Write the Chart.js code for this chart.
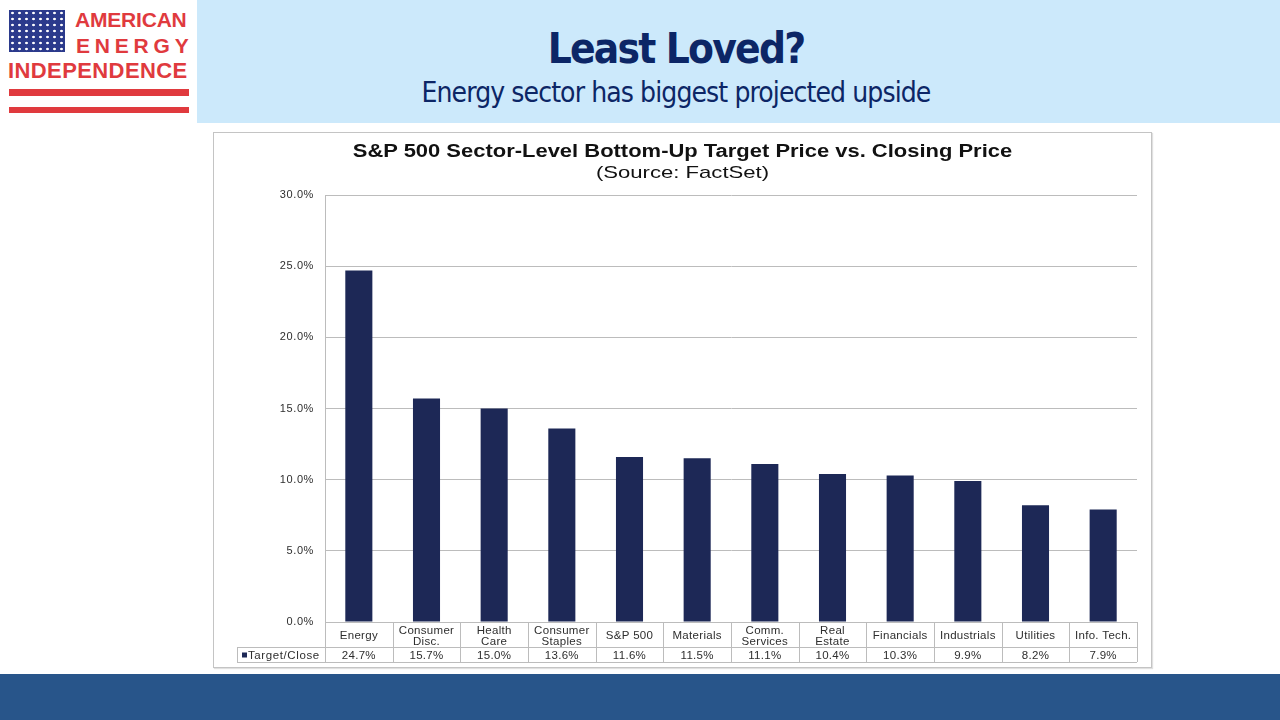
<!DOCTYPE html>
<html>
<head>
<meta charset="utf-8">
<script src="https://cdn.jsdelivr.net/npm/chart.js@4.4.1/dist/chart.umd.min.js"></script>
<style>
  html, body { margin: 0; padding: 0; }
  body { width: 1280px; height: 720px; position: relative; overflow: hidden; background: #ffffff; font-family: "Liberation Sans", Arial, sans-serif; }
  .header { position: absolute; left: 197px; top: 0; width: 1083px; height: 123px; background: #cce9fb; }
  .header h1 { position: absolute; left: 0; width: 958px; top: 22px; margin: 0; text-align: center; font-family: "DejaVu Sans Condensed", "DejaVu Sans", sans-serif; font-weight: bold; font-size: 42px; line-height: 54px; letter-spacing: -1.8px; color: #0c2666; }
  .header h2 { position: absolute; left: 0; width: 958px; top: 75px; margin: 0; text-align: center; font-family: "DejaVu Sans Condensed", "DejaVu Sans", sans-serif; font-weight: normal; font-size: 28px; line-height: 36px; letter-spacing: -0.9px; color: #0c2666; }
  .logo { position: absolute; left: 0; top: 0; width: 197px; height: 123px; background: #fff; }
  .flag { position: absolute; left: 9px; top: 10px; width: 56px; height: 42px; background-color: #2b3a8c;
          background-image: radial-gradient(circle, #ffffff 1px, transparent 1.6px); background-size: 7px 6px; background-position: 0 0; }
  .logo .t { position: absolute; color: #e03a3e; font-family: "Liberation Sans", Arial, sans-serif; font-weight: bold; line-height: 22px; white-space: nowrap; }
  .stripe { position: absolute; left: 9px; width: 180px; background: #e03a3e; }
  .box { position: absolute; left: 213px; top: 132px; width: 937px; height: 534px; border: 1px solid #c4c4c4; box-shadow: 1px 1px 1px #e0e0e0; }
  .box .ct { position: absolute; left: 0; width: 937px; text-align: center; color: #111111; white-space: nowrap; font-family: "Liberation Sans", Arial, sans-serif; transform-origin: 50% 50%; }
  .band { position: absolute; left: 0; top: 674px; width: 1280px; height: 46px; background: #28558a; }
  canvas { position: absolute; left: 0; top: 0; }
</style>
</head>
<body>
<div class="logo">
  <div class="flag"></div>
  <div class="t" style="left:75px; top:9px; font-size:21px; letter-spacing:-0.2px;">AMERICAN</div>
  <div class="t" style="left:76px; top:35px; font-size:21px; letter-spacing:4.8px;">ENERGY</div>
  <div class="t" style="left:8px; top:60px; font-size:22px; letter-spacing:0.4px;">INDEPENDENCE</div>
  <div class="stripe" style="top:89px; height:7px;"></div>
  <div class="stripe" style="top:107px; height:6px;"></div>
</div>
<div class="header">
  <h1>Least Loved?</h1>
  <h2>Energy sector has biggest projected upside</h2>
</div>
<div class="box">
  <canvas id="chart" width="937" height="534"></canvas>
  <div class="ct" style="top:7px; font-size:18px; line-height:22px; font-weight:bold; transform: scaleX(1.22);">S&amp;P 500 Sector-Level Bottom-Up Target Price vs. Closing Price</div>
  <div class="ct" style="top:29px; font-size:17px; line-height:22px; transform: scaleX(1.3);">(Source: FactSet)</div>
</div>
<div class="band"></div>
<script>
const sectors = [
  ['Energy'], ['Consumer', 'Disc.'], ['Health', 'Care'], ['Consumer', 'Staples'],
  ['S&P 500'], ['Materials'], ['Comm.', 'Services'], ['Real', 'Estate'],
  ['Financials'], ['Industrials'], ['Utilities'], ['Info. Tech.']
];
const targetClose = [24.7, 15.7, 15.0, 13.6, 11.6, 11.5, 11.1, 10.4, 10.3, 9.9, 8.2, 7.9];
const yTicks = [0, 5, 10, 15, 20, 25, 30];
const seriesName = 'Target/Close';

const BAR = '#1d2856';
const GRID = '#bcbcbc';
const TEXT = '#2e2e2e';
const FONT = '"Liberation Sans", Arial, sans-serif';

// the source picture is a little stretched sideways, so space the glyphs out a bit
const spacing = {
  id: 'spacing',
  beforeDraw(chart) { chart.ctx.letterSpacing = '0.6px'; }
};

// data table under the plot, laid out from the x scale
const dataTable = {
  id: 'dataTable',
  afterDraw(chart) {
    const ctx = chart.ctx;
    const x = chart.scales.x;
    const area = chart.chartArea;
    const half = (x.getPixelForValue(1) - x.getPixelForValue(0)) / 2;
    const top = area.bottom;
    const mid = top + 25;
    const bot = top + 40;
    const leftCell = area.left - 88;

    ctx.save();
    ctx.letterSpacing = '0px';
    ctx.strokeStyle = GRID;
    ctx.lineWidth = 1;
    ctx.beginPath();
    ctx.moveTo(leftCell, mid + 0.5); ctx.lineTo(area.right, mid + 0.5);
    ctx.moveTo(leftCell, bot + 0.5); ctx.lineTo(area.right, bot + 0.5);
    ctx.moveTo(leftCell + 0.5, mid); ctx.lineTo(leftCell + 0.5, bot);
    for (let i = 0; i <= sectors.length; i++) {
      const px = Math.round(x.getPixelForValue(i) - half) + 0.5;
      ctx.moveTo(px, top); ctx.lineTo(px, bot);
    }
    ctx.stroke();

    ctx.fillStyle = TEXT;
    ctx.font = '11.5px ' + FONT;
    ctx.letterSpacing = '0.3px';
    ctx.textAlign = 'center';
    ctx.textBaseline = 'middle';
    sectors.forEach((lines, i) => {
      const cx = x.getPixelForValue(i);
      const cy = top + 14;
      lines.forEach((ln, k) => {
        ctx.fillText(ln, cx, cy + (k - (lines.length - 1) / 2) * 11);
      });
      ctx.fillText(targetClose[i].toFixed(1) + '%', cx, (mid + bot) / 2 + 1);
    });

    ctx.fillStyle = BAR;
    ctx.fillRect(leftCell + 5, (mid + bot) / 2 - 2, 5, 5);
    ctx.fillStyle = TEXT;
    ctx.textAlign = 'left';
    ctx.letterSpacing = '0.6px';
    ctx.fillText(seriesName, leftCell + 11, (mid + bot) / 2 + 1);
    ctx.restore();
  }
};

new Chart(document.getElementById('chart'), {
  type: 'bar',
  data: {
    labels: sectors,
    datasets: [{
      label: seriesName,
      data: targetClose,
      backgroundColor: BAR,
      borderWidth: 0,
      barPercentage: 0.4,
      categoryPercentage: 1.0,
    }],
  },
  options: {
    responsive: false,
    animation: false,
    devicePixelRatio: 1,
    layout: { padding: { left: 0, right: 14, top: 62, bottom: 45 } },
    plugins: {
      legend: { display: false },
      tooltip: { enabled: false },
      title: { display: false },
    },
    scales: {
      x: {
        display: false,
        offset: true,
      },
      y: {
        min: 0,
        max: 30,
        afterFit(scale) { scale.width = 111; },
        afterBuildTicks(scale) { scale.ticks = yTicks.map((v) => ({ value: v })); },
        border: { display: true, color: GRID, width: 1 },
        grid: { color: GRID, lineWidth: 1, drawTicks: false },
        ticks: {
          padding: 11,
          color: TEXT,
          font: { family: FONT, size: 11 },
          callback(value) { return Number(value).toFixed(1) + '%'; },
        },
      },
    },
  },
  plugins: [spacing, dataTable],
});
</script>
</body>
</html>
